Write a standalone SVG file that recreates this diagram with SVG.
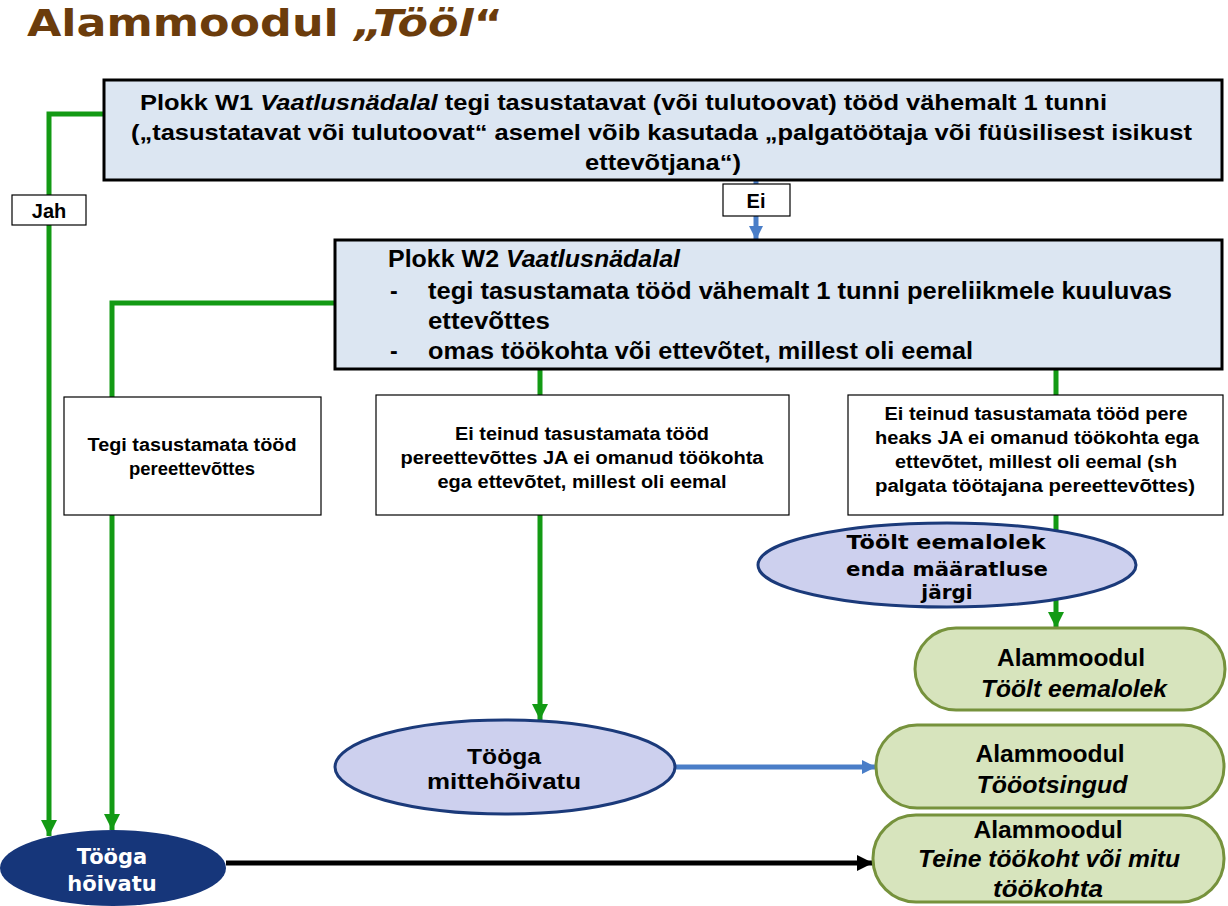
<svg xmlns="http://www.w3.org/2000/svg" width="1228" height="906" viewBox="0 0 1228 906">
<style>
.n{font-family:"Liberation Sans",Arial,sans-serif;font-weight:bold;fill:#000}
.v{font-family:"DejaVu Sans",Verdana,sans-serif;font-weight:bold}
.i{font-style:italic}
.box{fill:#DCE6F2;stroke:#000;stroke-width:3}
.wb{fill:#fff;stroke:#000;stroke-width:1.2}
.lab{fill:#fff;stroke:#000;stroke-width:1.2}
.rr{fill:#D7E4BD;stroke:#76923C;stroke-width:3}
.g{stroke:#139A14;stroke-width:5;fill:none}
.b{stroke:#4A7EC8;stroke-width:5;fill:none}
.k{stroke:#000;stroke-width:5;fill:none}
</style>
<defs>
<marker id="ag" markerUnits="userSpaceOnUse" markerWidth="18" markerHeight="18" refX="16" refY="8" orient="auto" viewBox="0 0 18 16"><path d="M0,0 L16,8 L0,16 Z" fill="#139A14"/></marker>
<marker id="ab" markerUnits="userSpaceOnUse" markerWidth="16" markerHeight="16" refX="14" refY="7" orient="auto" viewBox="0 0 16 14"><path d="M0,0 L14,7 L0,14 Z" fill="#4A7EC8"/></marker>
<marker id="ak" markerUnits="userSpaceOnUse" markerWidth="18" markerHeight="18" refX="16" refY="8" orient="auto" viewBox="0 0 18 16"><path d="M0,0 L16,8 L0,16 Z" fill="#000"/></marker>
</defs>
<rect width="1228" height="906" fill="#fff"/>
<text id="title" x="27" y="36" class="v" font-size="38" fill="#6B3C0C" textLength="476" lengthAdjust="spacingAndGlyphs">Alammoodul <tspan class="i">„Tööl</tspan>“</text>

<g id="connectors">
<path class="g" d="M104,114 H49 V836" marker-end="url(#ag)"/>
<path class="b" d="M756,180 V240" marker-end="url(#ab)"/>
<path class="g" d="M335,303 H112 V830" marker-end="url(#ag)"/>
<path class="g" d="M540,369 V720" marker-end="url(#ag)"/>
<path class="g" d="M1056,369 V628" marker-end="url(#ag)"/>
<path class="b" d="M675,767 H876" marker-end="url(#ab)"/>
<path class="k" d="M226,863 H873" marker-end="url(#ak)"/>
</g>

<g id="label-jah">
<rect class="lab" x="12" y="195" width="74" height="30"/>
<text x="49" y="218" class="n" font-size="20" text-anchor="middle">Jah</text>
</g>
<g id="label-ei">
<rect class="lab" x="723" y="184" width="67" height="32"/>
<text x="756" y="208" class="n" font-size="20" text-anchor="middle">Ei</text>
</g>

<g id="w1">
<rect class="box" x="104" y="80" width="1118" height="100"/>
<text x="140" y="110" class="n" font-size="22" textLength="967" lengthAdjust="spacingAndGlyphs">Plokk W1 <tspan class="i">Vaatlusnädalal</tspan> tegi tasustatavat (või tulutoovat) tööd vähemalt 1 tunni</text>
<text x="131" y="140" class="n" font-size="22" textLength="1061" lengthAdjust="spacingAndGlyphs">(„tasustatavat või tulutoovat“ asemel võib kasutada „palgatöötaja või füüsilisest isikust</text>
<text x="585" y="170" class="n" font-size="22" textLength="156" lengthAdjust="spacingAndGlyphs">ettevõtjana“)</text>
</g>

<g id="w2">
<rect class="box" x="335" y="240" width="887" height="129"/>
<text x="388" y="267" class="n" font-size="23" textLength="292" lengthAdjust="spacingAndGlyphs">Plokk W2 <tspan class="i">Vaatlusnädalal</tspan></text>
<text x="390" y="299" class="n" font-size="23">-</text>
<text x="428" y="299" class="n" font-size="23" textLength="744" lengthAdjust="spacingAndGlyphs">tegi tasustamata tööd vähemalt 1 tunni pereliikmele kuuluvas</text>
<text x="428" y="329" class="n" font-size="23" textLength="122" lengthAdjust="spacingAndGlyphs">ettevõttes</text>
<text x="390" y="359" class="n" font-size="23">-</text>
<text x="428" y="359" class="n" font-size="23" textLength="545" lengthAdjust="spacingAndGlyphs">omas töökohta või ettevõtet, millest oli eemal</text>
</g>

<g id="box1">
<rect class="wb" x="64" y="397" width="257" height="118"/>
<text x="192" y="451" class="n" font-size="18" text-anchor="middle" textLength="209" lengthAdjust="spacingAndGlyphs">Tegi tasustamata tööd</text>
<text x="192" y="475" class="n" font-size="18" text-anchor="middle" textLength="126" lengthAdjust="spacingAndGlyphs">pereettevõttes</text>
</g>

<g id="box2">
<rect class="wb" x="376" y="395" width="413" height="120"/>
<text x="582" y="440" class="n" font-size="18" text-anchor="middle" textLength="254" lengthAdjust="spacingAndGlyphs">Ei teinud tasustamata tööd</text>
<text x="582" y="464" class="n" font-size="18" text-anchor="middle" textLength="363" lengthAdjust="spacingAndGlyphs">pereettevõttes JA ei omanud töökohta</text>
<text x="582" y="488" class="n" font-size="18" text-anchor="middle" textLength="289" lengthAdjust="spacingAndGlyphs">ega ettevõtet, millest oli eemal</text>
</g>

<g id="box3">
<rect class="wb" x="848" y="395" width="375" height="120"/>
<text x="1036" y="420" class="n" font-size="18" text-anchor="middle" textLength="303" lengthAdjust="spacingAndGlyphs">Ei teinud tasustamata tööd pere</text>
<text x="1037" y="444" class="n" font-size="18" text-anchor="middle" textLength="324" lengthAdjust="spacingAndGlyphs">heaks JA ei omanud töökohta ega</text>
<text x="1036" y="468" class="n" font-size="18" text-anchor="middle" textLength="282" lengthAdjust="spacingAndGlyphs">ettevõtet, millest oli eemal (sh</text>
<text x="1035" y="492" class="n" font-size="18" text-anchor="middle" textLength="320" lengthAdjust="spacingAndGlyphs">palgata töötajana pereettevõttes)</text>
</g>

<g id="eemalolek-ellipse">
<ellipse cx="947" cy="565" rx="189" ry="42" fill="#CDD0EE" stroke="#1B3A7A" stroke-width="3"/>
<text x="946" y="549" class="v" font-size="20" text-anchor="middle" textLength="199" lengthAdjust="spacingAndGlyphs">Töölt eemalolek</text>
<text x="947" y="576" class="v" font-size="20" text-anchor="middle" textLength="202" lengthAdjust="spacingAndGlyphs">enda määratluse</text>
<text x="947" y="599" class="v" font-size="20" text-anchor="middle">järgi</text>
</g>

<g id="rr1">
<rect class="rr" x="915" y="628" width="310" height="82" rx="41" ry="41"/>
<text x="1071" y="666" class="n" font-size="24" text-anchor="middle" textLength="148" lengthAdjust="spacingAndGlyphs">Alammoodul</text>
<text x="1074" y="697" class="n i" font-size="24" text-anchor="middle" textLength="186" lengthAdjust="spacingAndGlyphs">Töölt eemalolek</text>
</g>

<g id="mittehoivatu">
<ellipse cx="505" cy="767" rx="170" ry="47" fill="#CDD0EE" stroke="#1B3A7A" stroke-width="3"/>
<text x="504" y="764" class="n" font-size="22" text-anchor="middle" textLength="74" lengthAdjust="spacingAndGlyphs">Tööga</text>
<text x="504" y="789" class="n" font-size="22" text-anchor="middle" textLength="154" lengthAdjust="spacingAndGlyphs">mittehõivatu</text>
</g>

<g id="rr2">
<rect class="rr" x="876" y="725" width="348" height="83" rx="41" ry="41"/>
<text x="1050" y="762" class="n" font-size="24" text-anchor="middle" textLength="149" lengthAdjust="spacingAndGlyphs">Alammoodul</text>
<text x="1052" y="793" class="n i" font-size="24" text-anchor="middle" textLength="151" lengthAdjust="spacingAndGlyphs">Tööotsingud</text>
</g>

<g id="rr3">
<rect class="rr" x="873" y="815" width="351" height="87" rx="43" ry="43"/>
<text x="1048" y="838" class="n" font-size="24" text-anchor="middle" textLength="149" lengthAdjust="spacingAndGlyphs">Alammoodul</text>
<text x="1049" y="867" class="n i" font-size="24" text-anchor="middle" textLength="262" lengthAdjust="spacingAndGlyphs">Teine töökoht või mitu</text>
<text x="1048" y="897" class="n i" font-size="24" text-anchor="middle" textLength="110" lengthAdjust="spacingAndGlyphs">töökohta</text>
</g>

<g id="hoivatu">
<ellipse cx="113" cy="868" rx="113" ry="38" fill="#16367A"/>
<text x="112" y="864" class="v" font-size="21" fill="#fff" text-anchor="middle">Tööga</text>
<text x="112" y="891" class="v" font-size="21" fill="#fff" text-anchor="middle">hõivatu</text>
</g>
</svg>
